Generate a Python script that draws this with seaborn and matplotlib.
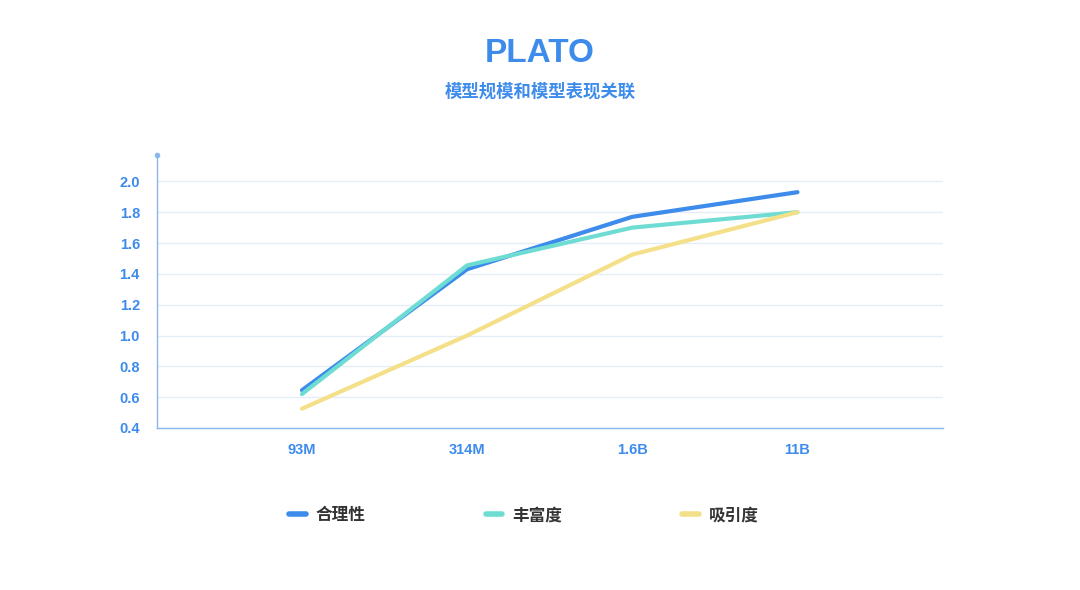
import pandas as pd
import matplotlib
matplotlib.use('Agg')
import matplotlib.pyplot as plt
import seaborn as sns

# data
sizes = ['93M', '314M', '1.6B', '11B']
heli = [0.645, 1.43, 1.77, 1.93]      # 合理性
fengfu = [0.62, 1.455, 1.70, 1.80]    # 丰富度
xiyin = [0.525, 1.00, 1.525, 1.80]    # 吸引度
series_names = ['合理性', '丰富度', '吸引度']
colors = ['#3d8beb', '#6edcd2', '#f5e08a']
yticks = [0.4, 0.6, 0.8, 1.0, 1.2, 1.4, 1.6, 1.8, 2.0]

df = pd.DataFrame({
    'size': sizes * 3,
    'score': heli + fengfu + xiyin,
    'metric': [n for n in series_names for _ in sizes],
})

sns.set_theme(style='white')
plt.rcParams['font.family'] = ['Noto Sans CJK SC', 'DejaVu Sans']

blue = '#3d8beb'
fig = plt.figure(figsize=(10.8, 5.9), dpi=100)
ax = fig.add_axes([0.145, 0.2746, 0.728, 0.4624])

sns.lineplot(data=df, x='size', y='score', hue='metric', palette=colors,
             hue_order=series_names, linewidth=3, ax=ax, sort=False)

ax.set_xlim(-0.88, 3.88)
ax.set_ylim(0.4, 2.17)
ax.set_yticks(yticks)
ax.set_yticklabels([f'{v:.1f}' for v in yticks])
ax.set_xlabel('')
ax.set_ylabel('')
ax.grid(axis='y', color='#e4edf8', linewidth=1)
ax.set_axisbelow(True)
for s in ['top', 'right']:
    ax.spines[s].set_visible(False)
for s in ['left', 'bottom']:
    ax.spines[s].set_color('#8ab8ec')
    ax.spines[s].set_linewidth(1)
ax.plot(0, 1, marker='o', markersize=3, color='#8ab8ec',
        transform=ax.transAxes, clip_on=False)
ax.tick_params(axis='both', length=0, labelcolor=blue)
ax.tick_params(axis='y', pad=12)
ax.tick_params(axis='x', pad=11)
for lab in ax.get_xticklabels() + ax.get_yticklabels():
    lab.set_fontweight('bold')
    lab.set_fontfamily(['Liberation Sans', 'DejaVu Sans'])
    lab.set_fontsize(10.5)

handles, labels = ax.get_legend_handles_labels()
ax.get_legend().remove()
for h in handles:
    h.set_linewidth(4)
fig.legend(handles, labels, loc='center', bbox_to_anchor=(0.485, 0.127),
           ncol=3, frameon=False, handlelength=1.0, handletextpad=0.6,
           columnspacing=7.2,
           prop={'size': 12, 'weight': 'bold'}, labelcolor='#333333')

fig.text(0.5, 0.91, 'PLATO', ha='center', va='center', color=blue,
         fontsize=24, fontweight='bold',
         family=['Liberation Sans', 'DejaVu Sans'])
fig.text(0.5, 0.845, '模型规模和模型表现关联', ha='center', va='center',
         color=blue, fontsize=12.5, fontweight='bold')

fig.savefig('out.png', dpi=100)
